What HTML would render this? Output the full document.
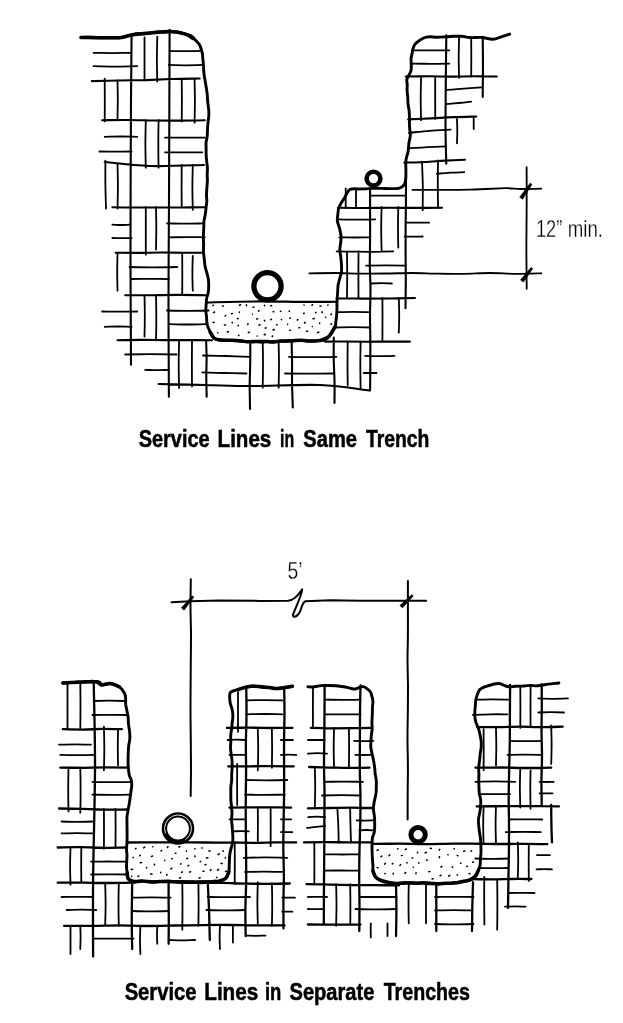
<!DOCTYPE html>
<html><head><meta charset="utf-8"><title>Service Lines</title>
<style>
html,body{margin:0;padding:0;background:#fff;}
body{width:623px;height:1023px;overflow:hidden;font-family:"Liberation Sans",sans-serif;}
svg{display:block;}
text{font-family:"Liberation Sans",sans-serif;fill:#000;}
</style></head><body>
<svg width="623" height="1023" viewBox="0 0 623 1023">
<rect width="623" height="1023" fill="#fff"/>
<g fill="none" stroke="#000" stroke-linecap="round" stroke-linejoin="round">
<path stroke-width="1.8" d="M93.6,52.9 C96.7,52.9 105.8,53.1 112,53.1 C118.1,53.1 127.2,52.9 130.3,52.9 M93.6,66.2 C97.2,66.3 108.2,66.6 115.5,66.6 C122.7,66.6 133.7,66.3 137.3,66.2 M144.5,37.5 C144.5,41.1 144.5,51.8 144.5,58.9 C144.5,66 144.5,76.7 144.5,80.3 M157.3,36.7 C157.2,40.4 156.9,51.7 156.9,59.1 C156.9,66.6 157.2,77.9 157.3,81.6 M169.6,50.8 C172.1,50.9 179.6,51.2 184.6,51.2 C189.7,51.2 197.2,50.9 199.7,50.8 M168.9,64.9 C171.7,65 180,65.3 185.6,65.3 C191.2,65.3 199.5,65 202.3,64.9 M104.7,78.6 C104.7,82.2 104.8,92.9 104.8,100 C104.8,107.1 104.7,117.8 104.7,121.4 M117.5,80.3 C117.5,83.5 117.8,93.2 117.8,99.6 C117.8,106 117.5,115.7 117.5,118.9 M181.7,79 C181.7,82.5 181.9,93.1 181.9,100.2 C181.9,107.3 181.7,117.9 181.7,121.4 M194.6,79 C194.6,82.6 194.9,93.6 194.9,100.8 C194.9,108.1 194.6,119.1 194.6,122.7 M104.7,136.8 C107.4,136.8 115.6,136.5 121,136.5 C126.4,136.5 134.6,136.8 137.3,136.8 M99.5,151.5 C102.2,151.5 110.2,151.6 115.5,151.6 C120.9,151.6 128.9,151.5 131.6,151.5 M145.8,120.2 C145.7,124.2 145.4,136 145.4,143.9 C145.4,151.9 145.7,163.7 145.8,167.7 M158.6,120.2 C158.5,124.2 158.3,136 158.3,143.9 C158.3,151.9 158.5,163.7 158.6,167.7 M165,137.6 C168.3,137.6 178.3,137.6 184.9,137.6 C191.5,137.6 201.5,137.6 204.8,137.6 M165,152.3 C168.1,152.3 177.4,152.4 183.7,152.4 C189.9,152.4 199.2,152.3 202.3,152.3 M105.4,160.7 C105.4,164.7 105.3,176.6 105.4,184.6 C105.5,192.6 105.9,204.5 106,208.5 M117.5,163.8 C117.6,167.5 117.9,178.7 117.9,186.2 C117.9,193.6 117.6,204.8 117.5,208.5 M181.7,165 C181.7,168.4 181.6,178.7 181.6,185.5 C181.6,192.3 181.7,202.6 181.7,206 M192.8,165 C192.7,168.7 192.4,179.9 192.4,187.4 C192.4,194.9 192.7,206.1 192.8,209.8 M112.4,224.7 C113.8,224.7 118.1,225 121,225 C123.9,225 128.2,224.7 129.6,224.7 M112.4,238 C114,238 118.8,238.2 122,238.2 C125.2,238.2 130,238 131.6,238 M145.8,207.2 C145.8,211.2 145.8,223 145.8,230.9 C145.8,238.9 145.8,250.7 145.8,254.7 M156,207.2 C156,210.7 156.3,221.3 156.3,228.4 C156.3,235.5 156,246.1 156,249.6 M167,223.4 C170.1,223.4 179.3,223.7 185.5,223.7 C191.7,223.7 200.9,223.4 204,223.4 M168.9,237.3 C171.9,237.3 180.9,237.1 186.9,237.1 C192.8,237.1 201.8,237.3 204.8,237.3 M117.5,253.5 C117.5,256.6 117.2,265.9 117.2,272.1 C117.2,278.3 117.5,287.6 117.5,290.7 M129.6,267 C133.6,267.1 145.5,267.4 153.4,267.4 C161.4,267.4 173.3,267.1 177.3,267 M130.9,279 C134.1,279 143.6,278.9 149.9,278.9 C156.2,278.9 165.7,279 168.9,279 M182.2,254.2 C182.2,257.5 182.3,267.2 182.3,273.8 C182.3,280.3 182.2,290 182.2,293.3 M192.8,256 C192.7,258.9 192.4,267.6 192.4,273.4 C192.4,279.1 192.7,287.8 192.8,290.7 M102.1,311.5 C105,311.5 113.8,311.7 119.7,311.7 C125.6,311.7 134.4,311.5 137.3,311.5 M104.7,326.8 C106.9,326.8 113.7,326.5 118.2,326.5 C122.6,326.5 129.4,326.8 131.6,326.8 M144.5,295.4 C144.6,298.8 144.8,309.1 144.8,315.9 C144.8,322.8 144.6,333.1 144.5,336.5 M156,295.4 C156.1,299.1 156.3,310.4 156.3,317.9 C156.3,325.3 156.1,336.6 156,340.3 M167,310.5 C170.5,310.6 180.9,310.9 187.8,310.9 C194.8,310.9 205.2,310.6 208.7,310.5 M168.9,324.2 C172,324.2 181.3,324.5 187.4,324.5 C193.6,324.5 202.9,324.2 206,324.2 M125.2,354.5 C129.5,354.4 142.3,354.2 150.9,354.2 C159.5,354.2 172.3,354.4 176.6,354.5 M145.2,369.9 C147.2,369.9 153.1,370.2 157.1,370.2 C161,370.2 166.9,369.9 168.9,369.9 M179.1,341.6 C179,345.5 178.7,357 178.7,364.8 C178.7,372.5 179,384 179.1,387.9 M192,340.3 C192,344.2 191.9,355.7 191.9,363.5 C191.9,371.2 192,382.7 192,386.6 M203,355.5 C206.9,355.6 218.8,355.8 226.7,356 C234.5,356.2 246.4,356.7 250.3,356.8 M202.3,372.4 C206,372.5 217,372.8 224.4,373 C231.8,373.2 242.8,373.4 246.5,373.5 M262.7,341.4 C262.8,345.3 263,356.8 263,364.5 C263,372.3 262.8,383.8 262.7,387.7 M278.6,341.4 C278.7,345.3 279,356.8 279,364.5 C279,372.3 278.7,383.8 278.6,387.7 M288.9,356.8 C292.9,356.9 304.7,357.2 312.6,357.2 C320.6,357.2 332.4,356.9 336.4,356.8 M285,373.5 C289.1,373.5 301.3,373.6 309.4,373.6 C317.5,373.6 329.7,373.5 333.8,373.5 M412,50.3 C415.1,50.3 424.4,50.3 430.6,50.3 C436.9,50.3 446.2,50.3 449.3,50.3 M412,63.7 C415.1,63.7 424.4,63.8 430.6,63.8 C436.9,63.8 446.2,63.7 449.3,63.7 M459.1,38 C459,41.3 458.7,51.3 458.7,57.9 C458.7,64.5 459,74.5 459.1,77.8 M471.2,38 C471.2,41.2 471.3,50.8 471.3,57.2 C471.3,63.7 471.2,73.3 471.2,76.5 M421.1,77.8 C421,81.3 420.7,91.9 420.7,99 C420.7,106.1 421,116.7 421.1,120.2 M435.2,77.8 C435.2,81.2 435.2,91.5 435.2,98.3 C435.2,105.2 435.2,115.5 435.2,118.9 M446.3,89.9 C449.2,89.7 458,89.1 463.9,88.6 C469.7,88.2 478.5,87.5 481.4,87.3 M446.3,104.2 C448.4,104 454.6,103.4 458.8,103 C462.9,102.6 469.1,101.9 471.2,101.7 M408.8,132.8 C412.3,132.5 422.7,131.3 429.7,130.8 C436.6,130.3 447.1,129.9 450.6,129.7 M409.6,148.2 C412.7,148 421.8,147.5 427.9,147.2 C434.1,146.9 443.2,146.5 446.3,146.4 M457,118.9 C457,120.9 457.3,127 457.3,131.1 C457.3,135.2 457,141.3 457,143.3 M473.7,117 C473.7,119 473.7,127.1 473.7,129.1 M422,161.6 C422.1,165.7 422.7,177.8 422.8,185.9 C422.9,194.1 422.7,206.2 422.7,210.3 M438,160.3 C438,164.3 437.8,176.1 437.8,184.1 C437.8,192 438,203.8 438.1,207.8 M436.9,173.8 C439.2,173.6 446,173 450.5,172.7 C455.1,172.4 461.9,172.3 464.2,172.2 M406,222.7 C407.9,222.7 413.7,222.7 417.6,222.7 C421.4,222.7 427.2,222.7 429.1,222.7 M404.7,236.5 C406.2,236.5 410.7,236.7 413.7,236.7 C416.7,236.7 421.2,236.5 422.7,236.5 M345.7,188.5 C345.7,190.1 345.7,194.9 345.7,198.2 C345.7,201.4 345.7,206.2 345.7,207.8 M356,188.5 C356,190.1 356,194.9 356,198.2 C356,201.4 356,206.2 356,207.8 M370.1,195.7 C373.1,195.7 382.1,195.7 388.1,195.7 C394,195.7 403,195.7 406,195.7 M338.5,219.3 C341.6,219.4 350.7,219.7 356.9,219.7 C363,219.7 372.1,219.4 375.2,219.3 M339.3,237.3 C341.9,237.3 349.6,237.5 354.7,237.5 C359.8,237.5 367.5,237.3 370.1,237.3 M336.7,251.4 C339.8,251.5 349.3,251.7 355.5,251.7 C361.8,251.8 368.1,251.9 374.4,251.8 C380.6,251.7 390.1,251.5 393.2,251.4 M347,251.4 C347,255.3 347.2,266.8 347.2,274.6 C347.2,282.3 347,293.8 347,297.7 M358.5,251.4 C358.5,255.3 358.4,266.8 358.4,274.6 C358.4,282.3 358.5,293.8 358.5,297.7 M381.6,207 C381.5,210.6 381.2,221.4 381.2,228.6 C381.2,235.8 381.5,246.6 381.6,250.2 M398.3,207 C398.2,210.4 398,220.5 398,227.3 C398,234.1 398.2,244.2 398.3,247.6 M366.2,265.6 C369.5,265.5 379.5,265.3 386.1,265.3 C392.7,265.3 402.7,265.5 406,265.6 M371.4,283.5 C373.1,283.4 378.2,283.2 381.6,283.2 C385.1,283.2 390.2,283.4 391.9,283.5 M382.4,298 C382.4,301.5 382.5,312.1 382.5,319.1 C382.5,326.2 382.4,336.8 382.4,340.3 M398.8,298 C398.9,300.9 399.2,309.5 399.2,315.3 C399.2,321.1 398.9,329.7 398.8,332.6 M336.7,312.1 C339.5,312.1 347.8,311.9 353.4,311.9 C359,311.9 367.3,312.1 370.1,312.1 M335.4,327.5 C338.3,327.4 347,327.1 352.8,327.1 C358.5,327.1 367.2,327.4 370.1,327.5 M347.7,341.6 C347.7,345.2 347.5,356.2 347.5,363.5 C347.5,370.7 347.7,381.7 347.7,385.3 M360.6,341.6 C360.6,345.5 360.3,357 360.3,364.8 C360.3,372.5 360.6,384 360.6,387.9 M365,355.8 C367.5,355.9 374.8,356.2 379.8,356.2 C384.7,356.2 392,355.9 394.5,355.8 M363.7,373 C365.8,373 374.4,373 376.5,373 M67.5,683 C67.5,686.9 67.5,698.4 67.5,706.1 C67.5,713.8 67.5,725.4 67.5,729.2 M80.3,683 C80.3,686.9 80.5,698.4 80.5,706.1 C80.5,713.8 80.3,725.4 80.3,729.2 M93.7,701 C96.3,700.9 104,700.7 109.1,700.7 C114.2,700.7 121.9,700.9 124.5,701 M92.4,715 C95.3,715 103.9,714.9 109.7,714.9 C115.5,714.9 124.1,715 127,715 M59,744.6 C61.7,744.6 69.7,744.4 75,744.4 C80.3,744.4 88.3,744.6 91,744.6 M60.3,754.9 C63.2,755 71.9,755.2 77.7,755.2 C83.4,755.2 92.1,755 95,754.9 M103.9,726.6 C104,730.2 104.3,741.2 104.3,748.5 C104.3,755.7 104,766.7 103.9,770.3 M118,729.2 C118,732.2 117.8,741.2 117.8,747.2 C117.8,753.2 118,762.2 118,765.2 M68.5,767.7 C68.4,771.3 68.2,782.3 68.2,789.5 C68.2,796.8 68.4,807.8 68.5,811.4 M80.3,767.7 C80.4,771.5 80.6,782.7 80.6,790.2 C80.6,797.7 80.4,809 80.3,812.7 M92.4,781.8 C95.6,781.9 105.2,782.2 111.7,782.2 C118.1,782.2 127.7,781.9 130.9,781.8 M92.4,794.7 C95.4,794.7 104.4,794.9 110.4,794.9 C116.3,794.9 125.3,794.7 128.3,794.7 M61.6,821.5 C64.2,821.6 71.9,821.9 77,821.9 C82.1,821.9 89.8,821.6 92.4,821.5 M61.6,833.4 C64.2,833.4 71.9,833.2 77,833.2 C82.1,833.2 89.8,833.4 92.4,833.4 M103.9,809 C103.9,812.3 104,822.3 104,828.9 C104,835.5 103.9,845.5 103.9,848.8 M115.5,809 C115.5,812.2 115.6,821.8 115.6,828.2 C115.6,834.7 115.5,844.3 115.5,847.5 M70.5,847.5 C70.4,850.6 70.1,859.9 70.1,866.1 C70.1,872.3 70.4,881.6 70.5,884.7 M81.3,847.5 C81.3,850.4 81.2,859.1 81.2,864.9 C81.2,870.6 81.3,879.3 81.3,882.2 M91.1,861.6 C94,861.6 102.7,861.5 108.4,861.5 C114.2,861.5 122.9,861.6 125.8,861.6 M91.1,874.5 C94.1,874.5 103.1,874.4 109,874.4 C115,874.4 124,874.5 127,874.5 M61.6,897 C64.2,897 72.1,896.8 77.3,896.8 C82.6,896.8 90.5,897 93.1,897 M66.7,910 C69.2,909.9 76.5,909.6 81.5,909.6 C86.4,909.6 93.7,909.9 96.2,910 M105.2,883.5 C105.3,886.9 105.6,897.2 105.6,904 C105.6,910.9 105.3,921.2 105.2,924.6 M118.8,883.5 C118.7,887 118.5,897.6 118.5,904.6 C118.5,911.7 118.7,922.3 118.8,925.8 M132.2,897.6 C135.4,897.6 145,897.4 151.4,897.4 C157.9,897.4 167.5,897.6 170.7,897.6 M132.2,911 C135.2,911.1 144.3,911.4 150.4,911.4 C156.5,911.4 165.6,911.1 168.6,911 M182.3,881.7 C182.3,885.7 182.5,897.7 182.5,905.7 C182.5,913.7 182.3,925.7 182.3,929.7 M198.4,881.7 C198.4,885.4 198.6,896.4 198.6,903.8 C198.6,911.1 198.4,922.1 198.4,925.8 M70.5,925.8 C70.5,928.1 70.5,935.2 70.5,939.9 C70.5,944.6 70.5,951.6 70.5,954 M80.3,925.8 C80.3,927.7 80.6,933.5 80.6,937.4 C80.6,941.3 80.3,947.1 80.3,949 M93.1,938.7 C96.5,938.7 106.6,938.6 113.3,938.6 C120,938.6 130.1,938.7 133.5,938.7 M140.4,925.8 C140.3,928.1 140,935.2 140,939.9 C140,944.6 140.3,951.6 140.4,954 M157.3,927.1 C157.2,928.5 157,932.7 157,935.5 C157,938.2 157.2,942.4 157.3,943.8 M168.6,940 C170.8,940 177.4,940.3 181.8,940.3 C186.3,940.3 192.9,940 195.1,940 M207.7,897 C211.2,897 221.8,897.1 228.8,897.1 C235.9,897.1 246.5,897 250,897 M206.4,910 C209.6,910.1 219.3,910.4 225.7,910.4 C232.1,910.4 241.8,910.1 245,910 M220,925.3 C219.9,927.3 219.6,933.2 219.6,937.1 C219.6,941.1 219.9,947 220,949 M232.9,925.3 C232.9,926.7 232.9,931 232.9,933.9 C232.9,936.8 232.9,941.1 232.9,942.5 M245.7,935.6 C247.3,935.6 252.3,935.8 255.6,935.8 C258.9,935.8 263.9,935.6 265.5,935.6 M238,692 C238,695.3 238,705.3 238,711.9 C238,718.5 238,728.5 238,731.8 M246.2,700.4 C249.2,700.3 258.2,700.1 264.2,700.1 C270.2,700.1 279.2,700.3 282.2,700.4 M246.2,714.3 C249.2,714.3 258.2,714 264.2,714 C270.2,714 279.2,714.3 282.2,714.3 M227.7,740 C229.1,739.9 233.5,739.6 236.3,739.6 C239.2,739.6 243.6,739.9 245,740 M229.5,754.9 C230.8,754.9 234.7,754.8 237.2,754.8 C239.8,754.8 243.7,754.9 245,754.9 M257.8,729.2 C257.9,732.6 258.2,742.9 258.2,749.8 C258.2,756.6 257.9,766.9 257.8,770.3 M271.9,729.2 C271.9,732.4 272.1,742 272.1,748.5 C272.1,754.9 271.9,764.5 271.9,767.7 M280.9,740 C282.9,740 291,740 293,740 M280.9,754.9 C282.2,754.9 286,754.7 288.6,754.7 C291.2,754.7 295,754.9 296.3,754.9 M237.2,763.9 C237.2,767.3 237.1,777.6 237.1,784.5 C237.1,791.3 237.2,801.6 237.2,805 M246.2,780 C249.6,780.1 259.9,780.3 266.8,780.3 C273.6,780.3 283.9,780.1 287.3,780 M245,794.7 C248.3,794.7 258.2,794.9 264.9,794.9 C271.5,794.9 281.4,794.7 284.7,794.7 M257.8,807.5 C257.8,810.3 257.9,818.7 257.9,824.2 C257.9,829.8 257.8,838.2 257.8,841 M270.6,807.5 C270.6,810.7 270.7,820.4 270.7,826.9 C270.7,833.3 270.6,843 270.6,846.2 M229.5,819.3 C230.9,819.3 235.1,819.3 237.8,819.3 C240.6,819.3 244.8,819.3 246.2,819.3 M233.4,831.3 C234.7,831.3 238.5,831.2 241.1,831.2 C243.7,831.2 247.5,831.3 248.8,831.3 M280.9,819.3 C282.6,819.3 289.5,819.3 291.2,819.3 M280.9,832.1 C282.8,832.1 290.5,832.1 292.4,832.1 M234.7,842.4 C234.7,845.8 234.8,856.1 234.8,863 C234.8,869.8 234.7,880.1 234.7,883.5 M243.7,857.8 C247.3,857.7 258.2,857.4 265.5,857.4 C272.8,857.4 283.7,857.7 287.3,857.8 M245,871.9 C248.1,871.9 257.4,871.7 263.6,871.7 C269.8,871.7 279.1,871.9 282.2,871.9 M257.8,882.2 C257.7,885.6 257.4,895.9 257.4,902.8 C257.4,909.6 257.7,919.9 257.8,923.3 M271.9,883.5 C272,887 272.2,897.6 272.2,904.6 C272.2,911.7 272,922.3 271.9,925.8 M282.2,897.6 C284.3,897.6 292.9,897.6 295,897.6 M282.2,911.7 C283.9,911.7 290.7,911.7 292.4,911.7 M313,686.8 C313,690.2 312.9,700.5 312.9,707.3 C312.9,714.2 313,724.5 313,727.9 M314.8,767 C314.9,770.4 315.2,780.5 315.2,787.2 C315.2,794 314.9,804.1 314.8,807.5 M314.3,842.4 C314.3,845.8 314.4,856.1 314.4,863 C314.4,869.8 314.3,880.1 314.3,883.5 M324.6,699.7 C327.6,699.7 336.6,699.9 342.6,699.9 C348.5,699.9 357.5,699.7 360.5,699.7 M324.6,714.3 C327.6,714.3 336.6,714.3 342.6,714.3 C348.5,714.3 357.5,714.3 360.5,714.3 M307.9,740 C309.3,740 313.5,740 316.2,740 C319,740 323.2,740 324.6,740 M307.9,753.6 C309.5,753.5 314.3,753.2 317.4,753.2 C320.6,753.2 325.4,753.5 327,753.6 M334,727.9 C334,731.2 333.7,741.2 333.7,747.8 C333.7,754.4 334,764.4 334,767.7 M348.9,727.9 C348.9,731.2 349.1,741.2 349.1,747.8 C349.1,754.4 348.9,764.4 348.9,767.7 M354,740.8 C355.6,740.9 360.5,741.2 363.7,741.2 C366.9,741.2 371.8,740.9 373.4,740.8 M355.4,754.9 C356.8,754.9 360.9,755 363.7,755 C366.5,755 370.6,754.9 372,754.9 M324.6,781.8 C327.8,781.8 337.4,781.6 343.8,781.6 C350.2,781.6 359.8,781.8 363,781.8 M322,795.5 C325.2,795.4 334.8,795.2 341.2,795.2 C347.7,795.2 357.3,795.4 360.5,795.5 M337.4,808.8 C337.5,811.6 338.1,820 338.3,825.6 C338.5,831.2 338.6,839.6 338.7,842.4 M350.2,808.8 C350.2,811.6 350.3,820 350.5,825.6 C350.6,831.2 350.9,839.6 351,842.4 M356.7,820.4 C358.1,820.4 362.3,820.6 365,820.6 C367.8,820.6 372,820.4 373.4,820.4 M359.3,830.3 C360.5,830.2 364,830 366.4,830 C368.7,830 372.2,830.2 373.4,830.3 M308.2,817.1 C309.6,817 313.8,816.7 316.6,816.7 C319.5,816.7 323.7,817 325.1,817.1 M307,827.9 C308.5,827.7 313,827.3 316.1,826.9 C319.1,826.6 323.6,826.1 325.1,825.9 M325.8,854.4 C328.6,854.4 337,854.5 342.6,854.5 C348.1,854.5 356.5,854.4 359.3,854.4 M323.8,870.6 C326.8,870.6 335.6,870.5 341.6,870.5 C347.5,870.5 356.3,870.6 359.3,870.6 M307.9,897 C309.5,897 314.3,896.8 317.5,896.8 C320.7,896.8 325.5,897 327.1,897 M307.9,909 C309.2,909 313.2,909.1 315.9,909.1 C318.5,909.1 322.5,909 323.8,909 M336.1,884.2 C336.2,887.7 336.5,898.1 336.5,905 C336.5,911.9 336.2,922.3 336.1,925.8 M350.2,884.2 C350.2,887.5 350.4,897.2 350.4,903.7 C350.4,910.3 350.3,920 350.3,923.3 M360.5,897 C363.5,897 372.5,897 378.5,897 C384.5,897 393.5,897 396.5,897 M355.4,909 C358.7,909.1 368.7,909.4 375.3,909.4 C381.9,909.4 391.9,909.1 395.2,909 M370.8,923.3 C370.8,924.5 370.7,928 370.7,930.3 C370.7,932.7 370.8,936.2 370.8,937.4 M387.5,923.3 C387.5,925.4 387.5,933.9 387.5,936 M408.8,883.5 C408.7,886.8 408.5,896.8 408.5,903.4 C408.5,910 408.7,920 408.8,923.3 M426,883.5 C426,886.8 426,896.8 426,903.4 C426,910 426,920 426,923.3 M435,897 C438.2,897 447.8,896.8 454.2,896.8 C460.7,896.8 470.3,897 473.5,897 M435,910.4 C438.1,910.4 447.4,910.2 453.6,910.2 C459.8,910.2 469.1,910.4 472.2,910.4 M435,924 C438.2,924.1 447.8,924.4 454.2,924.4 C460.7,924.4 470.3,924.1 473.5,924 M484.3,877 C484.3,881 484.1,892.8 484.2,900.8 C484.2,908.7 484.4,920.5 484.4,924.5 M497.2,879.6 C497.2,883.8 497.4,896.3 497.4,904.7 C497.4,913 497.2,925.5 497.2,929.7 M476.7,699.7 C479.4,699.7 487.4,699.4 492.8,699.4 C498.1,699.4 506.1,699.7 508.8,699.7 M472.8,714.8 C475.7,714.7 484.4,714.4 490.1,714.3 C495.9,714.2 504.6,714.3 507.5,714.3 M520.3,686.8 C520.3,690.2 520.4,700.5 520.4,707.3 C520.4,714.2 520.3,724.5 520.3,727.9 M530.6,686.8 C530.6,690.1 530.5,700.1 530.5,706.7 C530.5,713.3 530.6,723.3 530.6,726.6 M538.3,698.4 C540.8,698.5 548.2,698.8 553.1,698.8 C558,698.8 565.4,698.5 567.9,698.4 M538.3,712.5 C540.4,712.4 546.9,712.2 551.1,712.2 C555.4,712.2 561.9,712.4 564,712.5 M483.6,729.2 C483.6,732.6 483.7,742.9 483.7,749.8 C483.7,756.6 483.6,766.9 483.6,770.3 M496,727.9 C496,731 496.3,740.3 496.3,746.5 C496.3,752.8 496,762.1 496,765.2 M510.1,740.8 C512.7,740.9 520.4,741.2 525.5,741.2 C530.6,741.2 538.3,740.9 540.9,740.8 M507.5,754.9 C510.3,754.8 518.6,754.6 524.2,754.6 C529.8,754.6 538.1,754.8 540.9,754.9 M551.2,725.4 C551.3,728.6 551.6,738.2 551.6,744.6 C551.6,751.1 551.3,760.7 551.2,763.9 M475.4,781.8 C478.7,781.7 488.7,781.4 495.3,781.4 C501.9,781.4 511.9,781.7 515.2,781.8 M479.3,794.2 C481.9,794.2 489.6,794.1 494.7,794.1 C499.8,794.1 507.5,794.2 510.1,794.2 M520.3,767.7 C520.2,771 519.9,781 519.9,787.6 C519.9,794.2 520.2,804.2 520.3,807.5 M530.6,770.3 C530.5,773.5 530.3,783.1 530.3,789.5 C530.3,796 530.5,805.6 530.6,808.8 M539.6,781.8 C540.8,781.8 544.3,782 546.7,782 C549,782 552.5,781.8 553.7,781.8 M539.6,793.4 C541.8,793.4 550.4,793.4 552.5,793.4 M483.6,807.2 C483.5,810.3 483.2,819.5 483.2,825.7 C483.2,831.9 483.5,841.1 483.6,844.2 M496,805.7 C495.9,808.9 495.6,818.4 495.6,824.7 C495.6,831 495.9,840.5 496,843.7 M508.8,819.5 C511.6,819.5 519.9,819.3 525.5,819.3 C531.1,819.3 539.4,819.5 542.2,819.5 M505.7,832.1 C508.6,832.1 517.4,831.8 523.3,831.8 C529.2,831.8 538,832.1 540.9,832.1 M475.4,858.5 C478.1,858.6 486.3,858.9 491.7,858.9 C497.1,858.9 505.3,858.6 508,858.5 M479.3,868 C481.7,868 488.9,868.2 493.6,868.2 C498.4,868.2 505.6,868 508,868 M517.8,842.4 C517.9,845.4 518.2,854.4 518.2,860.3 C518.2,866.3 517.9,875.3 517.8,878.3 M528.8,844.2 C528.8,847.3 528.7,856.4 528.7,862.5 C528.7,868.7 528.8,877.8 528.8,880.9 M537,855.2 C539.1,855.2 547.8,855.2 549.9,855.2 M536.5,869.3 C537.8,869.3 541.7,869.2 544.2,869.2 C546.8,869.2 550.7,869.3 552,869.3 M508,893 C510.2,893 516.8,892.9 521.2,892.9 C525.7,892.9 532.3,893 534.5,893 M505,906.6 C506.7,906.6 511.8,906.4 515.2,906.4 C518.7,906.4 523.8,906.6 525.5,906.6"/>
<path stroke-width="2.1" d="M131.6,34 C131.5,45 131.2,64 131,100 C130.8,136 130.5,205.9 130.5,250 C130.5,294.1 130.9,345.6 131,364.7 M169.6,29.8 C169.5,58.2 169.2,155 169,200 C168.8,245 168.5,267.2 168.5,300 C168.5,332.8 168.8,380.7 168.9,396.8 M206.1,340.3 C206.2,343.4 206.6,352.8 206.6,359.1 C206.6,365.3 206.2,371.6 206.3,377.8 C206.3,384.1 206.6,393.5 206.7,396.6 M91.8,81.1 C96.3,81 109.8,80.7 118.8,80.5 C127.8,80.3 136.8,80.3 145.8,80.1 C154.7,79.8 163.7,79.3 172.7,79 C181.7,78.7 195.2,78.6 199.7,78.5 M102.1,120.2 C106.4,120.2 119.2,119.9 127.8,120 C136.3,120 144.9,120.4 153.4,120.5 C162,120.6 170.6,120.7 179.1,120.6 C187.7,120.6 200.5,120.3 204.8,120.2 M104.7,162 C112.2,162.7 133.4,165.5 150,166 C166.6,166.5 195,165.2 204,165 M112.4,207.2 C116.2,207.3 127.8,207.5 135.5,207.5 C143.2,207.6 150.9,207.5 158.6,207.5 C166.3,207.5 174,207.5 181.7,207.5 C189.4,207.4 201,207.2 204.8,207.2 M115.7,252.7 C119.4,252.7 130.3,253 137.7,252.9 C145,252.9 152.3,252.5 159.6,252.5 C166.9,252.4 174.2,252.7 181.6,252.7 C188.9,252.8 199.8,252.7 203.5,252.7 M125.2,295.3 C129.7,295.3 143.2,295.2 152.1,295.2 C161.1,295.1 170.1,294.9 179.1,294.9 C188,294.9 201.5,295.2 206,295.3 M117.5,340.3 C121.4,340.2 133.2,339.9 141.1,339.9 C149,339.8 156.9,340.1 164.8,340.1 C172.6,340.1 180.5,340.1 188.4,340.1 C196.2,340.1 208.1,340.3 212,340.3 M158.6,384 C166.5,384.2 190.8,384.7 206,385 C221.2,385.3 231,386 250,386 C269,386 300.2,384.3 320,385 C339.8,385.7 360.8,389.5 369,390.4 M250.3,341.4 C250.3,345.2 250.3,356.4 250.2,363.9 C250.1,371.4 249.7,379 249.7,386.5 C249.7,394 250,405.2 250,409 M291.6,341.4 C291.7,345.1 292,356.1 292.1,363.4 C292.1,370.7 291.9,378.1 292.1,385.4 C292.2,392.7 292.7,403.7 292.8,407.4 M333.8,337.6 C333.8,341.2 333.6,352.1 333.7,359.4 C333.9,366.7 334.4,373.9 334.5,381.2 C334.7,388.5 334.5,399.4 334.5,403 M446.3,35.4 C446.2,49.8 445.5,100.6 445.5,122 C445.5,143.4 446.2,156.8 446.3,163.8 M482.7,36.7 C482.7,40.1 482.9,50.1 482.9,56.8 C483,63.5 482.9,70.2 482.9,76.9 C482.8,83.6 482.7,93.7 482.7,97 M405.7,76.5 C409.5,76.5 420.9,76.3 428.5,76.3 C436.1,76.3 443.7,76.6 451.2,76.6 C458.8,76.6 466.4,76.3 474,76.3 C481.6,76.3 493,76.5 496.8,76.5 M408.2,119.4 C412,119.2 423.3,118.7 430.9,118.4 C438.5,118 446,117.4 453.6,117.1 C461.2,116.8 472.5,116.6 476.3,116.5 M404.4,162.6 C407.8,162.5 417.9,162.4 424.6,162 C431.3,161.7 438.1,161 444.8,160.6 C451.5,160.2 461.6,159.9 465,159.8 M406,178 C406,182.3 406,195.4 405.9,204 C405.9,212.7 405.6,221.4 405.6,230.1 C405.6,238.8 405.6,247.4 405.6,256.1 C405.7,264.8 405.8,273.5 405.8,282.2 C405.7,290.8 405.5,303.9 405.5,308.2 M370.1,188.5 C370.1,192.7 370.1,205.3 370.1,213.7 C370.1,222.2 370.1,230.6 370.1,239 C370,247.4 369.8,255.8 369.8,264.2 C369.9,272.6 370.4,281 370.5,289.4 C370.5,297.9 370.1,306.3 370,314.7 C370,323.1 370.3,331.5 370.3,339.9 C370.4,348.3 370.3,356.7 370.3,365.2 C370.3,373.6 370.1,386.2 370.1,390.4 M338,207.8 C342.3,207.8 355.3,208 364,208 C372.7,208 381.3,207.8 390,207.8 C398.7,207.8 407.3,207.9 416,207.9 C424.7,207.9 437.7,207.8 442,207.8 M336.7,298.5 C341.1,298.5 354.1,298.6 362.8,298.6 C371.5,298.6 380.2,298.6 388.9,298.5 C397.6,298.4 410.7,298.1 415,298 M325,341.6 C328.5,341.6 339.2,341.5 346.2,341.5 C353.3,341.6 360.4,341.7 367.4,341.7 C374.5,341.7 381.6,341.6 388.7,341.6 C395.7,341.6 406.4,341.6 409.9,341.6 M206.7,302.5 C215.6,302.3 244.4,301.5 260,301.4 C275.6,301.3 287.3,301.8 300,301.9 C312.7,302 330.3,301.8 336.4,301.8"/>
<path stroke-width="2.3" d="M93.7,681.7 C93.9,696 95.1,734.7 95,767.7 C94.9,800.8 93.4,848.5 93.1,880 C92.8,911.5 93.1,943.8 93.1,956.6 M132.2,880.9 C132.2,884.7 132,896 131.9,903.6 C131.8,911.2 131.7,918.7 131.8,926.3 C131.8,933.9 132.1,945.2 132.2,949 M168.6,880.9 C168.6,884.4 168.6,894.9 168.6,901.9 C168.7,908.9 168.8,915.8 168.8,922.8 C168.8,929.8 168.6,940.3 168.6,943.8 M207.9,884.7 C208.1,889.3 208.8,903.1 209.1,912.3 C209.4,921.6 209.7,935.4 209.8,940 M62.8,729.2 C66.1,729.3 75.9,729.6 82.5,729.6 C89.1,729.6 95.6,729 102.2,728.9 C108.8,728.9 118.6,729.2 121.9,729.2 M60.3,767.7 C64.1,767.7 75.4,767.8 83,767.8 C90.5,767.7 98.1,767.4 105.6,767.4 C113.2,767.4 124.5,767.6 128.3,767.7 M59,808.5 C62.8,808.6 74.1,808.7 81.7,808.9 C89.2,809 96.8,809.5 104.3,809.6 C111.9,809.7 123.2,809.5 127,809.5 M57.7,847.5 C61.6,847.4 73.1,847.1 80.8,847.2 C88.5,847.2 96.2,847.7 103.9,847.8 C111.6,847.8 123.2,847.5 127,847.5 M57.7,882.7 C62,882.7 74.9,882.6 83.5,882.7 C92.1,882.8 100.6,883 109.2,883 C117.8,883 130.7,882.8 135,882.7 M64.1,925.8 C68.7,925.8 82.5,926 91.7,925.9 C100.9,925.9 110.1,925.4 119.2,925.4 C128.4,925.4 137.6,926 146.8,926 C156,926 165.2,925.7 174.4,925.5 C183.6,925.4 192.8,925.2 202,925.1 C211.2,925 220.4,924.9 229.5,925 C238.7,925 247.9,925.3 257.1,925.4 C266.3,925.4 280.1,925.3 284.7,925.3 M246.2,686.8 C246.3,691.4 246.6,705.3 246.5,714.5 C246.5,723.7 246,732.9 245.9,742.2 C245.8,751.4 246.1,760.6 246.1,769.9 C246.1,779.1 245.8,788.3 245.8,797.6 C245.7,806.8 245.7,816 245.8,825.2 C245.8,834.5 246,843.7 246.1,852.9 C246.1,862.2 246.3,871.4 246.2,880.6 C246.1,889.9 245.5,899.1 245.4,908.3 C245.3,917.5 245.6,931.4 245.7,936 M284.2,686.8 C284.2,691.3 284.5,704.7 284.5,713.6 C284.4,722.6 284.1,731.5 284.1,740.5 C284,749.4 284.1,758.4 284.1,767.3 C284.1,776.3 284.2,785.2 284.1,794.2 C284,803.1 283.7,812.1 283.6,821 C283.5,830 283.3,838.9 283.3,847.9 C283.4,856.8 283.8,865.8 283.9,874.7 C283.9,883.7 283.5,892.6 283.4,901.6 C283.4,910.5 283.5,923.9 283.5,928.4 M227,727.9 C230.6,727.9 241.5,727.7 248.8,727.7 C256.1,727.7 263.3,727.9 270.6,728 C277.9,728 288.8,727.9 292.4,727.9 M228.2,766.4 C231.8,766.4 242.8,766.4 250,766.3 C257.3,766.3 264.6,766.1 271.9,766.1 C279.1,766.1 290.1,766.4 293.7,766.4 M229.5,807.6 C232.9,807.5 243.2,807.3 250.1,807.3 C256.9,807.3 263.8,807.3 270.6,807.3 C277.5,807.4 287.8,807.6 291.2,807.6 M232.1,842.4 C235.7,842.5 246.4,842.8 253.5,842.8 C260.6,842.8 267.8,842.5 274.9,842.4 C282,842.3 292.7,842.4 296.3,842.4 M200,883 C203.7,883 215,882.8 222.5,882.9 C230,883 237.5,883.5 244.9,883.6 C252.4,883.8 259.9,883.8 267.4,883.8 C274.9,883.8 286.2,883.6 289.9,883.5 M324.6,685.5 C324.6,689.9 324.6,703.1 324.5,711.9 C324.5,720.7 324.4,729.5 324.3,738.3 C324.2,747.2 324,756 324,764.8 C324,773.6 324.4,782.4 324.5,791.2 C324.6,800 324.4,808.8 324.4,817.6 C324.3,826.4 324.3,835.2 324.3,844 C324.2,852.8 324.1,861.6 324.1,870.5 C324,879.3 324,888.1 323.9,896.9 C323.9,905.7 323.8,918.9 323.8,923.3 M360.5,685.5 C360.4,690 360.1,703.7 360,712.8 C359.9,721.9 360,731 359.9,740.1 C359.9,749.1 359.7,758.2 359.8,767.3 C359.8,776.4 360.3,785.5 360.4,794.6 C360.5,803.7 360.4,812.8 360.3,821.9 C360.1,831 359.7,840.1 359.5,849.2 C359.3,858.3 359.2,867.3 359.2,876.4 C359.2,885.5 359.4,894.6 359.5,903.7 C359.5,912.8 359.3,926.5 359.3,931 M310.9,727.9 C314.3,728 324.5,728.2 331.3,728.3 C338.1,728.3 344.9,728.3 351.7,728.2 C358.5,728.1 368.7,727.9 372.1,727.9 M309.1,767 C312.5,767.1 322.5,767.4 329.2,767.6 C335.9,767.7 342.7,767.9 349.4,767.9 C356.1,767.9 366.1,767.7 369.5,767.7 M307.9,808.3 C311.5,808.2 322.5,808.1 329.7,808 C337,807.9 344.3,807.7 351.6,807.7 C358.8,807.8 369.8,808 373.4,808 M304,842.4 C307.8,842.3 319.1,842.1 326.7,842.1 C334.2,842.1 341.8,842.4 349.3,842.4 C356.9,842.5 368.2,842.4 372,842.4 M306.6,884.2 C310.4,884.3 322,884.5 329.7,884.6 C337.4,884.8 345.1,885 352.8,885.1 C360.5,885.2 368.2,885.2 375.9,885.2 C383.6,885.2 395.1,885.3 399,885.3 M307.9,924.5 C312.3,924.5 325.4,924.6 334.2,924.6 C343,924.6 356.1,924.5 360.5,924.5 M396,884.7 C396.1,889 396.4,901.8 396.4,910.4 C396.4,918.9 396.1,931.7 396,936 M436.3,883.5 C436.3,887.5 436.3,899.3 436.3,907.2 C436.3,915.2 436.3,927 436.3,931 M473,882.2 C472.9,886.3 472.5,898.5 472.3,906.6 C472.2,914.7 472.1,926.9 472,931 M510.1,685 C510.1,689.6 510,703.6 509.9,712.9 C509.9,722.2 509.9,731.4 509.8,740.7 C509.7,750 509.3,759.3 509.2,768.6 C509,777.9 508.7,787.2 508.7,796.4 C508.6,805.7 509,815 509,824.3 C509.1,833.6 509,842.9 508.9,852.2 C508.8,861.5 508.6,870.8 508.4,880 C508.3,889.3 508.1,903.3 508,907.9 M541.7,684.3 C541.7,688.3 541.8,700.4 541.8,708.4 C541.7,716.5 541.5,724.5 541.5,732.6 C541.6,740.6 542,748.7 542,756.7 C542,764.8 541.5,772.8 541.4,780.9 C541.4,788.9 541.7,801 541.7,805 M551.2,805 C551.2,808.1 551.3,817.5 551.4,823.7 C551.5,829.9 551.9,839.3 552,842.4 M477.5,727.2 C481.1,727.2 491.7,727.1 498.8,727.1 C505.9,727 513,726.6 520.1,726.6 C527.2,726.7 534.3,727.2 541.4,727.2 C548.5,727.2 559.2,726.7 562.7,726.6 M475.4,767.7 C479.6,767.7 492.2,767.5 500.7,767.5 C509.1,767.6 517.5,768 525.9,768 C534.4,768 547,767.7 551.2,767.7 M476.7,806.4 C481.3,806.4 495,806.2 504.1,806.2 C513.2,806.1 522.4,806.1 531.5,806.1 C540.6,806.2 554.3,806.4 558.9,806.4 M478,843.6 C481.8,843.7 493.4,844 501.1,844 C508.8,844.1 516.5,843.8 524.2,843.8 C531.9,843.8 543.5,844.1 547.3,844.2 M472.8,879 C476.1,879.1 485.8,879.4 492.3,879.4 C498.8,879.4 505.4,879.1 511.9,879 C518.4,878.9 528.1,879 531.4,879 M127,842.5 C131.4,842.5 144.5,842.4 153.3,842.4 C162,842.3 170.8,842.3 179.5,842.3 C188.3,842.3 197,842.5 205.8,842.5 C214.5,842.6 227.6,842.7 232,842.7 M373.4,843.8 C377.8,843.8 391.2,843.7 400,843.7 C408.9,843.8 417.8,844.1 426.7,844.1 C435.6,844.1 444.5,843.6 453.4,843.6 C462.2,843.5 475.6,843.8 480,843.8"/>
<path stroke-width="1.85" d="M412.4,189.8 C422,189.8 454.6,189.9 470,189.6 C485.4,189.3 496.7,188.3 505,188.2 C513.3,188.1 514,188.9 520,189 C526,189.1 537.7,188.8 541.2,188.7 M309.4,273.4 C313.7,273.3 326.6,273 335.2,273 C343.8,273.1 352.3,273.5 360.9,273.6 C369.5,273.7 378.1,273.6 386.7,273.5 C395.3,273.4 403.9,273 412.5,273 C421.1,273 429.6,273.6 438.2,273.7 C446.8,273.9 455.4,273.9 464,273.8 C472.6,273.7 481.2,273 489.8,273 C498.4,273 506.9,273.7 515.5,273.8 C524.1,273.8 537,273.4 541.3,273.3 M526.6,167.2 C526.6,171.2 526.7,183.4 526.7,191.5 C526.7,199.6 526.7,207.7 526.6,215.8 C526.6,223.9 526.4,232 526.4,240.1 C526.3,248.2 526.4,256.3 526.5,264.4 C526.5,272.5 526.7,284.7 526.7,288.7"/>
<path stroke-width="2.0" d="M171.6,602.3 L190,601.2 L220,600.4 L260,600.9 L288,600.8 C293,600.5 298,596 302.2,589.3 C303,591 296.5,606 293.2,614 C292,618 296.5,618 299.8,612 C301.8,608 302.2,602.5 305.5,601.3 L330,600.3 L360,600.8 L426.2,600.8 M190.8,579.2 C190.8,583.7 190.5,597.3 190.5,606.3 C190.5,615.3 190.9,624.4 191,633.4 C191,642.4 190.9,651.5 190.8,660.5 C190.8,669.5 190.6,678.6 190.6,687.6 C190.5,696.6 190.5,705.7 190.5,714.7 C190.6,723.7 190.7,732.8 190.8,741.8 C190.8,750.8 191,759.9 191,768.9 C191,777.9 190.7,791.5 190.7,796 M407.9,581.1 C407.9,585.5 407.9,598.8 407.9,607.6 C407.9,616.4 408,625.3 407.9,634.1 C407.9,642.9 407.5,651.8 407.5,660.6 C407.6,669.4 407.9,678.3 408,687.1 C408,695.9 407.9,704.8 407.8,713.6 C407.7,722.4 407.4,731.3 407.5,740.1 C407.5,748.9 407.9,757.8 407.9,766.6 C408,775.4 407.7,784.3 407.7,793.1 C407.6,801.9 407.6,815.2 407.6,819.6"/>
<path stroke-width="2.9" d="M81,37.5 C81.8,37.5 83.7,37.3 85.6,37.2 C87.6,37.2 90.6,37.2 93,37.3 C95.3,37.4 97.6,37.7 100,37.8 C102.4,37.9 105,37.7 107.4,37.7 C109.8,37.7 112.2,37.8 114.5,37.8 C116.9,37.8 119.5,37.8 121.4,37.5 C123.3,37.2 124.5,36.7 126.2,36.2 C127.9,35.8 129.9,35.3 131.6,34.9 C133.3,34.5 134.6,33.9 136.6,33.7 C138.5,33.6 141.1,34.1 143.3,33.9 C145.6,33.8 147.8,33.3 150,33 C152.2,32.7 154,32.2 156.4,32 C158.7,31.9 161.6,32.3 163.9,32.3 C166.2,32.2 167.7,31.6 170.2,31.6 C172.7,31.6 176,31.8 178.6,32.2 C181.2,32.7 183.4,33.4 185.6,34.1 C187.8,34.8 190.1,35.1 191.8,36.2 C193.5,37.2 194.4,38.9 195.8,40.5 C197.2,42.1 198.8,43.4 199.9,45.5 C201,47.7 201.8,51.3 202.3,53.4 C202.8,55.5 202.6,56.4 202.8,58.4 C203,60.4 203.3,63.1 203.5,65.4 C203.7,67.7 203.6,69.8 203.8,72 C204,74.3 204.4,76.7 204.8,79 C205.2,81.3 205.6,83.7 206,86 C206.4,88.4 206.8,90.6 207.1,93.2 C207.4,95.7 207.4,98.4 207.7,101.2 C207.9,104 208.5,107.5 208.7,109.9 C208.9,112.3 208.9,113.8 208.8,115.9 C208.7,118 208.2,120.4 208,122.5 C207.8,124.7 207.6,126.6 207.5,128.9 C207.4,131.1 207.5,133.8 207.2,136 C207,138.3 206.3,140.3 206.1,142.4 C205.9,144.4 206.1,146.2 206.1,148.4 C206.1,150.6 206.1,153.5 206.2,155.6 C206.3,157.8 206.5,159.5 206.7,161.5 C206.9,163.5 207.3,165.5 207.4,167.6 C207.5,169.7 207.2,172.3 207.2,174.4 C207.2,176.4 207.4,177.8 207.4,180 C207.4,182.2 207.1,184.9 206.9,187.4 C206.7,189.8 206.5,192.5 206.5,194.8 C206.4,197.1 206.9,199.3 206.8,201.4 C206.8,203.4 206.3,205 206.1,207 C205.9,209 205.8,211.2 205.4,213.5 C205.1,215.9 204.3,218.7 204,221 C203.7,223.3 203.9,225.2 203.8,227.6 C203.7,230 203.4,232.5 203.4,235.2 C203.3,238 203.5,241.4 203.6,244.2 C203.6,247 203.4,249.5 203.5,252 C203.6,254.5 204,256.6 204.3,259 C204.5,261.3 204.6,263.8 205.1,266.2 C205.5,268.7 206.5,271.5 207.1,273.7 C207.6,275.9 208.1,277.6 208.4,279.5 C208.7,281.5 208.7,283.3 208.7,285.5 C208.7,287.7 208.6,290.8 208.2,292.8 C207.9,294.9 207,296.3 206.7,298 C206.3,299.7 206.4,301 206.3,303 C206.2,305 205.8,307.8 205.8,310.2 C205.9,312.5 206.3,314.5 206.5,317 C206.7,319.5 206.7,322.5 207.3,325 C207.9,327.5 209.1,329.8 210.2,332 C211.3,334.2 212.7,336.7 214,338 C215.3,339.3 216.4,339.4 218.2,339.8 C220.1,340.2 222.7,340.2 225,340.3 C227.3,340.4 229.1,340.4 231.9,340.5 C234.6,340.6 238.9,340.8 241.4,341 C243.9,341.2 245.1,341.5 247,341.6 C249,341.7 250.9,341.3 253.2,341.3 C255.4,341.4 258.1,341.9 260.4,342 C262.7,342 264.7,341.6 267,341.6 C269.3,341.6 271.8,341.9 274,341.9 C276.2,341.8 278,341.2 280.1,341.1 C282.2,341 284.6,341.4 286.7,341.3 C288.8,341.2 290,340.8 292.7,340.7 C295.4,340.6 300,340.4 302.8,340.4 C305.7,340.5 307.1,341 310,341 C312.9,341 317.6,340.8 320,340.4 C322.4,340 323.1,339.1 324.7,338.3 C326.3,337.6 327.8,337.7 329.5,335.8 C331.2,333.9 333.9,329.3 335,327 C336.1,324.7 335.6,323.7 335.8,321.8 C336.1,320 336.4,318.2 336.6,316 C336.8,313.8 336.9,310.9 337,308.5 C337,306.1 336.9,304.4 337,301.6 C337.1,298.8 337.5,294 337.7,291.4 C337.9,288.8 337.7,287.8 338,285.7 C338.3,283.7 339,281.3 339.6,279 C340.2,276.7 341,274.2 341.4,272 C341.7,269.8 341.6,268.2 341.5,265.7 C341.4,263.2 341.1,259.9 340.8,257.2 C340.5,254.6 339.8,252.5 339.8,250 C339.8,247.5 340.5,244.8 340.7,242.5 C340.9,240.1 341.2,238.3 341,236 C340.8,233.7 340.2,231.2 339.6,228.7 C339,226.2 337.7,223.3 337.4,221 C337.1,218.7 337.6,216.8 337.8,214.7 C338,212.7 338.1,210.4 338.6,208.5 C339.1,206.6 340.1,204.9 341,203.3 C341.9,201.7 342.7,200.9 344,198.8 C345.3,196.7 347.1,192.2 348.6,190.5 C350.1,188.9 351.5,189.2 353,188.9 C354.5,188.6 355.3,189 357.3,189 C359.3,189 362.5,189 365,188.9 C367.5,188.8 369.5,188.4 372.2,188.4 C374.9,188.3 378.6,188.3 381.4,188.4 C384.2,188.4 386.2,188.6 389.2,188.6 C392.2,188.6 397,188.8 399.5,188.1 C402,187.4 403.3,186.1 404.3,184.6 C405.3,183.1 405.4,181.4 405.7,179 C406,176.6 405.9,172.5 405.9,170 C405.9,167.5 405.7,165.7 405.8,163.8 C405.8,161.9 405.8,160.8 406.2,158.7 C406.6,156.6 407.8,153.5 408.2,151 C408.6,148.5 408.5,146.1 408.9,143.6 C409.2,141 410.1,137.9 410.3,135.6 C410.5,133.3 410,131.6 409.8,129.7 C409.7,127.9 409.5,126.3 409.4,124.3 C409.4,122.3 409.6,119.9 409.5,117.6 C409.4,115.3 409.3,112.8 409.1,110.4 C408.8,108.1 408.2,105.8 408,103.6 C407.8,101.4 407.9,99.3 407.7,97 C407.5,94.7 407.1,92.1 407.1,90 C407,88 407.3,86.5 407.2,84.7 C407.2,82.8 406.4,81.2 407,79 C407.6,76.8 410.1,73.6 410.8,71.4 C411.5,69.2 411.2,68 411.3,65.9 C411.3,63.8 411,60.9 411.1,58.8 C411.2,56.7 411.7,55.3 412.1,53.4 C412.5,51.5 412.8,48.9 413.5,47.2 C414.1,45.5 414.3,44.6 416,43.1 C417.7,41.6 421.3,39 423.7,38 C426.1,37 427.9,36.9 430.1,36.8 C432.4,36.7 434.3,37.4 437.1,37.3 C439.8,37.3 444,36.9 446.8,36.7 C449.6,36.5 451.1,36.4 453.6,36.3 C456.1,36.3 458.8,36.1 461.5,36.3 C464.2,36.5 467,37.3 469.6,37.5 C472.2,37.7 475.2,37.5 477.4,37.5 C479.5,37.5 480.1,37.2 482.7,37.5 C485.3,37.8 489.8,39.4 493,39.3 C496.2,39.2 498.9,37.5 501.7,36.7 C504.5,35.8 508.4,34.5 509.7,34.1 M62.8,683 C63.6,682.9 65.4,682.8 67.4,682.7 C69.5,682.5 72.5,682.3 75.1,682.2 C77.7,682 80.3,681.9 82.9,681.8 C85.6,681.6 88.8,681.2 91,681.2 C93.2,681.1 94.5,681.1 96.2,681.7 C97.9,682.3 99,684.7 101.4,685 C103.8,685.3 107.3,683.2 110.3,683.5 C113.3,683.8 116.9,685.2 119.3,686.8 C121.7,688.4 123.5,691.3 124.5,693.2 C125.5,695.1 125.4,696.3 125.6,698.2 C125.8,700 125.5,702.2 125.7,704.4 C126,706.6 126.6,709 127,711.2 C127.4,713.4 127.9,715.1 128.1,717.3 C128.4,719.5 128.3,721.8 128.5,724.2 C128.8,726.7 129.4,729.4 129.6,731.8 C129.8,734.2 130,736.5 129.8,738.8 C129.7,741.1 129,743.1 128.7,745.7 C128.4,748.2 128.3,751.6 128.2,754.2 C128.1,756.8 128,758.8 128.1,761 C128.1,763.3 128.1,765.3 128.3,767.7 C128.5,770.1 128.8,773.3 129.3,775.3 C129.7,777.3 130.8,778 131.2,779.7 C131.7,781.5 131.8,783.4 131.7,785.7 C131.6,788 131,791.1 130.6,793.7 C130.3,796.4 130,799.1 129.6,801.6 C129.2,804.2 128.7,806.3 128.3,808.8 C127.9,811.3 127.2,814.1 127,816.8 C126.8,819.5 127,822.2 127,825 C127,827.8 127.1,830.6 127.1,833.5 C127.1,836.4 127.1,839.8 127,842.4 C126.9,845 126.5,846.8 126.5,848.9 C126.4,851 126.9,852.9 127,854.8 C127,856.6 126.9,857.9 126.8,860 C126.7,862.1 126.5,865.5 126.5,867.6 C126.6,869.8 127.1,871.2 127.3,873 C127.5,874.8 127.3,877.2 128,878.5 C128.7,879.8 130.1,880.3 131.5,880.8 C132.9,881.3 134.1,881.4 136.1,881.5 C138.1,881.5 140.8,881 143.4,881.1 C146,881.1 148.8,881.8 151.5,881.8 C154.3,881.9 157.6,881.6 160,881.5 C162.4,881.4 163.8,881.2 166,881.2 C168.2,881.2 170.9,881.4 173.3,881.4 C175.7,881.5 177.8,881.4 180.2,881.5 C182.5,881.5 185,881.6 187.3,881.6 C189.6,881.7 192.1,881.7 194.2,881.8 C196.3,881.8 197.6,882 200,882 C202.4,882 206.2,881.8 208.6,881.7 C211,881.6 212.6,881.4 214.4,881.3 C216.1,881.2 217.1,881.7 219,881.2 C220.9,880.7 223.9,880 225.5,878.5 C227.1,877 228.2,874.2 228.8,872 C229.4,869.8 229.1,867.7 229.2,865.2 C229.4,862.8 229.4,859.7 229.5,857.4 C229.7,855.1 229.8,853.9 230.3,851.4 C230.8,848.9 232.2,845 232.6,842.4 C233,839.8 232.9,838.3 232.8,835.6 C232.7,832.8 232.3,828.3 232.1,825.7 C231.9,823.1 231.5,822.2 231.5,820.1 C231.5,818 232,815.4 232,813.2 C232,810.9 231.7,808.7 231.5,806.5 C231.3,804.3 231,802.2 230.9,800.1 C230.8,797.9 230.8,795.7 230.8,793.4 C230.8,791.1 230.7,788.6 230.9,786.5 C231,784.4 231.5,782.7 231.7,780.7 C231.8,778.6 231.6,776.5 231.7,774.3 C231.8,772.2 232,769.9 232.1,767.7 C232.2,765.5 232.2,763.6 232.1,761.4 C232,759.3 231.6,756.9 231.3,754.7 C231,752.4 230.5,750.1 230.5,748 C230.4,745.9 230.8,744.1 230.8,742 C230.8,739.9 230.6,737.9 230.7,735.6 C230.9,733.2 231.4,730.2 231.7,728 C231.9,725.8 232,724.2 232.2,722.3 C232.4,720.3 232.9,718.6 232.9,716.4 C232.9,714.2 232.5,711.4 232.1,709.3 C231.7,707.1 230.7,705.6 230.3,703.5 C229.9,701.4 229.6,698.7 229.7,696.8 C229.7,694.9 229.3,693.2 230.8,692 C232.3,690.8 236.3,690.1 238.5,689.4 C240.7,688.7 241.9,688.1 244.1,687.6 C246.2,687 249.2,686.5 251.4,686.3 C253.6,686.1 255,686.2 257,686.4 C259,686.6 261.6,687.3 263.6,687.5 C265.7,687.7 267.1,687.4 269.3,687.6 C271.5,687.8 274.3,688.6 277,688.6 C279.7,688.6 283.1,687.9 285.7,687.6 C288.3,687.2 291.3,686.5 292.4,686.3 M307.9,686.8 C308.8,686.8 310.9,687.1 313.1,686.9 C315.3,686.7 318.4,685.9 321,685.6 C323.5,685.4 325.9,685.5 328.4,685.5 C330.9,685.5 333.5,685.6 336.1,685.8 C338.7,686 341.5,686.4 343.8,686.8 C346.1,687.2 348.1,687.8 350.1,688.1 C352,688.5 353.2,689.3 355.4,689 C357.6,688.7 360.7,686.3 363.1,686.6 C365.4,686.9 368.1,689.4 369.5,690.7 C370.9,692 370.8,692.6 371.3,694.3 C371.9,696.1 372.7,698.9 372.9,701 C373.1,703.1 372.6,704.5 372.5,706.8 C372.4,709 372.4,712 372.3,714.5 C372.3,717 372,719.5 371.9,721.9 C371.9,724.4 372.2,726.9 372.1,729.2 C372,731.5 371.5,733.5 371.3,735.6 C371.1,737.6 371,739.5 371,741.4 C370.9,743.4 370.6,745.1 370.8,747.2 C371,749.3 371.6,751.6 372.1,753.8 C372.6,756.1 373.2,758.5 373.6,760.8 C374.1,763.1 374.4,765.5 374.7,767.7 C375,769.9 374.9,771.7 375.2,773.8 C375.4,775.9 376.1,778.2 376.3,780.5 C376.5,782.8 376.3,785.6 376.3,787.7 C376.2,789.9 376.3,791 376,793.4 C375.7,795.8 374.6,799.5 374.2,802 C373.8,804.6 373.4,806.3 373.4,808.8 C373.4,811.3 374.3,814.4 374.5,817.2 C374.7,820 374.7,823.2 374.7,825.7 C374.7,828.2 374.6,830 374.3,832 C373.9,834 372.9,835.9 372.5,837.8 C372.1,839.8 372.2,841.2 372.1,843.7 C372,846.2 372,849.9 372.1,852.7 C372.2,855.4 372.4,857.7 372.5,860 C372.6,862.3 372.9,864.7 373,866.5 C373,868.3 372.6,869.3 373,871 C373.4,872.7 374.2,875.4 375.5,877 C376.8,878.6 378.4,879.5 381,880.5 C383.6,881.5 388.4,882.5 391,883 C393.6,883.5 394.4,883.6 396.5,883.6 C398.5,883.7 401,883.6 403.2,883.5 C405.4,883.3 407.6,882.7 409.8,882.7 C412.1,882.6 414.8,883.1 417,883.2 C419.2,883.3 421.1,883 423.3,883.1 C425.5,883.2 427.8,883.7 430.1,883.8 C432.4,883.9 435,883.7 437.1,883.6 C439.2,883.6 440.3,883.5 442.7,883.5 C445.1,883.5 448.8,883.6 451.4,883.4 C453.9,883.3 455.9,883 458,882.6 C460.1,882.2 462.4,881.5 464.3,881.1 C466.2,880.7 467.5,881 469.4,880.2 C471.3,879.4 474,877.7 475.5,876 C477,874.3 477.8,871.8 478.5,870 C479.2,868.2 479.7,867.2 480,865.4 C480.3,863.5 480.3,861.3 480.5,859 C480.7,856.7 480.9,854.4 481,851.8 C481,849.3 481,846.1 480.9,843.7 C480.8,841.3 480.6,839.6 480.4,837.7 C480.1,835.8 479.8,834.1 479.5,832.1 C479.2,830.1 478.9,827.9 478.7,825.7 C478.5,823.5 478.3,821.4 478.5,819.1 C478.7,816.8 479.6,814 479.9,811.8 C480.3,809.6 480.5,807.8 480.6,805.8 C480.7,803.8 480.9,802.1 480.7,800 C480.5,797.9 479.6,795.4 479.3,793.4 C479,791.4 479.1,790 479,788.1 C478.9,786.1 478.8,783.9 478.7,781.6 C478.7,779.3 478.9,776.7 478.9,774.3 C478.9,772 478.6,770.1 478.7,767.7 C478.8,765.3 479.4,762.3 479.6,759.9 C479.9,757.5 480,755.5 480.2,753.4 C480.5,751.3 481.1,749.3 481.2,747.2 C481.3,745.1 481.3,742.8 481.1,740.6 C480.8,738.4 480.3,736.1 479.9,734.2 C479.5,732.3 479.3,731.1 478.7,729.2 C478.1,727.3 476.7,724.7 476,722.5 C475.4,720.4 475,718.4 474.8,716.4 C474.6,714.4 474.8,712.8 474.9,710.7 C475.1,708.5 475.3,705.7 475.5,703.7 C475.7,701.7 475.3,700.8 476.1,698.4 C476.9,696 477.9,691.5 480,689.4 C482.2,687.2 485.9,686.5 489,685.5 C492.1,684.5 496.1,683.6 498.5,683.5 C500.9,683.4 501.6,684.5 503.3,685 C505,685.6 506.7,686.6 508.8,686.8 C510.9,687 513.4,686.4 516,686.2 C518.5,686.1 521.8,686.1 524.2,686 C526.6,685.9 528.4,685.4 530.5,685.4 C532.6,685.4 534.8,686 536.7,685.9 C538.7,685.8 539.8,685.3 542.2,685 C544.6,684.7 548.4,684.2 551.1,683.9 C553.9,683.6 557.6,683.1 558.9,683"/>
<path stroke-width="3.5" d="M210.2,332 C210.8,333 212.5,336.7 214,338 C215.5,339.3 217.2,339.4 219.1,339.8 C220.9,340.2 222.9,340.2 225,340.3 C227.1,340.4 229,340.1 231.8,340.2 C234.5,340.4 238.9,340.8 241.4,341 C243.9,341.2 244.7,341.5 246.7,341.7 C248.7,341.8 251,341.7 253.4,341.7 C255.7,341.6 258.5,341.4 260.8,341.4 C263.1,341.4 264.9,341.5 267,341.6 C269.1,341.7 271.1,342.1 273.4,342 C275.6,341.8 278.2,341.1 280.5,340.9 C282.8,340.7 285.1,340.7 287.1,340.7 C289.1,340.6 290.2,340.8 292.7,340.7 C295.2,340.6 299.2,340.2 302.1,340.3 C305,340.3 307,341 310,341 C313,341 317.4,340.7 320,340.4 C322.6,340.1 323.7,339.8 325.3,339.1 C326.9,338.3 327.9,337.8 329.5,335.8 C331.1,333.8 334.1,328.5 335,327 M127.3,873 C127.4,873.9 127.3,877.2 128,878.5 C128.7,879.8 130,880.3 131.5,880.8 C133,881.3 134.8,881.6 136.7,881.6 C138.7,881.6 140.5,880.9 142.9,881 C145.4,881 148.6,881.8 151.5,881.9 C154.3,882 157.5,881.6 160,881.5 C162.5,881.4 164.6,881.5 166.7,881.5 C168.9,881.5 170.7,881.5 173,881.7 C175.3,881.8 178.2,882.2 180.6,882.3 C183,882.4 185.1,882.3 187.4,882.3 C189.8,882.3 192.6,882.4 194.7,882.3 C196.8,882.3 197.7,882.1 200,882 C202.3,881.9 206.3,882.1 208.7,882 C211,881.9 212.5,881.6 214.2,881.5 C215.9,881.3 217.1,881.7 219,881.2 C220.9,880.7 223.9,880 225.5,878.5 C227.1,877 228.2,873.1 228.8,872 M373,871 C373.4,872 374.2,875.4 375.5,877 C376.8,878.6 378.4,879.5 381,880.5 C383.6,881.5 388.5,882.5 391,883 C393.5,883.5 394.3,883.5 396.2,883.5 C398.2,883.5 400.2,883 402.6,882.9 C404.9,882.8 408,882.9 410.4,882.9 C412.8,883 414.9,883.2 417,883.2 C419.1,883.2 420.9,882.8 423.2,882.8 C425.5,882.8 428.2,883 430.6,883.2 C433,883.4 435.5,883.9 437.5,883.9 C439.6,884 440.3,883.7 442.7,883.5 C445.1,883.3 449.2,883.1 451.8,883 C454.3,882.8 456,882.9 458,882.6 C460,882.3 461.9,881.6 463.8,881.2 C465.7,880.8 467.5,881.1 469.4,880.2 C471.3,879.3 474,877.7 475.5,876 C477,874.3 478,871 478.5,870 M81,37.5 C84.2,37.5 93.3,37.8 100,37.8 C106.7,37.8 116.1,38 121.4,37.5 C126.7,37 126.8,35.6 131.6,34.9 C136.4,34.1 143.6,33.5 150,33 C156.4,32.5 164.3,31.4 170.2,31.6 C176.1,31.8 181.8,33 185.6,34.1 C189.4,35.2 191.8,37.8 193,38.5 M62.8,683 C68.4,682.8 89.8,681.4 96.2,681.7 C102.6,682 99.1,684.7 101.4,685 C103.8,685.3 107.3,683.2 110.3,683.5 C113.3,683.8 117.8,686.2 119.3,686.8 M238.5,689.4 C240.7,688.9 246.3,686.6 251.4,686.3 C256.5,686 265,687.2 269.3,687.6 C273.6,688 273.1,688.8 277,688.6 C280.9,688.4 289.8,686.7 292.4,686.3"/>
<path stroke-width="3.0" d=""/>
</g>
<path d="M522.6,199.2 L531.8,184.4 L530.2,183.2 L519.8,197.2 Z" fill="#000" stroke="#000" stroke-width="0.8" stroke-linejoin="round"/>
<path d="M523.4,282.0 L532.6,268.7 L531.0,267.5 L520.6,280.0 Z" fill="#000" stroke="#000" stroke-width="0.8" stroke-linejoin="round"/>
<path d="M184.1,610.1 L193.8,597.1 L192.2,595.9 L181.5,607.9 Z" fill="#000" stroke="#000" stroke-width="0.8" stroke-linejoin="round"/>
<path d="M402.4,607.8 L413.2,596.1 L411.8,594.7 L400.0,605.4 Z" fill="#000" stroke="#000" stroke-width="0.8" stroke-linejoin="round"/>
<circle cx="267.5" cy="286.3" r="13.6" fill="#fff" stroke="#000" stroke-width="5.3"/>
<circle cx="373.5" cy="178.6" r="6.9" fill="#fff" stroke="#000" stroke-width="4.5"/>
<circle cx="178" cy="828.5" r="13.6" fill="#fff" stroke="#000" stroke-width="5.4"/><path d="M165.3,833.1 A13.5,13.5 0 1 1 185.7,839.6" fill="none" stroke="#fff" stroke-width="0.9" stroke-linecap="round"/>
<circle cx="418.1" cy="834.7" r="7.2" fill="#fff" stroke="#000" stroke-width="5"/>
<path d="M227.4,332.1 l0.9,-0.6 M304.2,313.2 l-0.6,0.3 M271.4,319.4 l-0.6,0.2 M290.5,330.2 l-0.6,0.1 M222.5,305.9 l0.8,0 M313,318.8 l1.2,-0.3 M304,305.1 l-0,-0.1 M265.3,328.1 l0.7,-0.2 M238.9,335.2 l-0.3,0.5 M321,306 l-1,-0 M214.1,322.3 l-1,0.1 M325.6,317.2 l0.1,0.2 M237.4,318.5 l0.7,0.2 M214.5,312.1 l-0.9,0.3 M264.4,320.9 l0.2,-0.5 M239.4,312.4 l0,-0.4 M246.4,305.7 l0.1,-0.8 M289.4,310.9 l-0.1,0.4 M225.7,315.6 l-0.5,0.4 M299,327.8 l0.7,-0.1 M312.3,326.4 l-0,0.2 M248,323.8 l-0.3,0.6 M318.7,332.1 l-1.3,0.5 M232.1,322.6 l0.3,0.1 M256.7,319 l0.9,-0.3 M273,329.9 l1.3,-0.3 M270.7,305.9 l0.9,-0.4 M330.9,324 l0.6,0.2 M259,310.5 l-0.5,0.6 M272.3,336.4 l0.3,-0.3 M305,322.3 l-0.4,0.8 M316,312.4 l-0.3,0.4 M281.5,319.7 l-0.2,-0.1 M327.8,305.2 l0.2,-0.1 M306.6,331.3 l1,-0.1 M217.8,332.8 l-0,0.1 M280.5,311.4 l0.4,-0.2 M276.7,325 l0.3,-0.4 M213,305.5 l0.3,-0.2 M224.4,325 l1.1,-0 M253,307.2 l0.9,-0 M231.5,313.7 l0.8,-0.2 M297.8,319.6 l-0.4,0.5 M273.2,311.7 l0.5,0.1 M238.2,325.8 l0.1,-0.6 M248.4,332.5 l0.9,-0.3 M322.1,311.8 l-0.1,0.8 M252.5,314.3 l0,-0.1 M319.7,323.1 l-0.2,0.4 M312,305.4 l0.4,-0.8 M257.1,336 l0,0.1 M330.9,314.5 l0.5,-0.4 M289.9,318.3 l0.5,-0.2 M259.9,324.6 l-0.8,0.6 M239.5,305.2 l1,-0.5 M265.3,334.6 l-1.1,-0 M264.5,305.7 l0.1,-0.4 M287.6,324.4 l0,-0.1 " stroke="#000" stroke-width="1.55" stroke-linecap="round" fill="none"/>
<path d="M135.5,848.7 l0.5,-0.1 M211,869.6 l-0.7,0.8 M195,855.9 l-0.1,0.7 M188.8,865.4 l-0.9,0.5 M186.4,851.1 l0.1,-0.2 M171.8,858.6 l0.4,0.1 M200.1,877.8 l-1,0.2 M222.1,863.4 l-1.1,0.1 M166.9,874.5 l-0.2,0.7 M181,863.9 l-0.5,0.1 M152.9,846.8 l-0.1,-0.1 M161.5,850.4 l-0.4,0.5 M179.5,878 l1.1,-0.2 M204,871.3 l-1,0 M223.3,851.2 l-0.4,-0.1 M200.2,861.6 l0.4,0 M151.5,856.4 l1,-0.3 M218.1,854.6 l1.2,-0.8 M202.2,847.9 l-0.4,-0 M152,874 l-1.3,0.1 M140.3,862.7 l1.3,-0.1 M171,868.9 l0.9,-0.7 M133.1,857.6 l0.1,-0.2 M146.7,867.5 l-0.2,0.4 M138,876.5 l0.8,-0.6 M132.5,869.3 l-1.2,0.2 M208.9,851 l1.2,0 M167.4,847.4 l0.5,-0.5 M217.5,870.2 l1.1,-0.8 M175.9,853.2 l-0.7,0 M186.7,858.6 l1,-0.4 M143.6,847.8 l1.1,-0.7 M154.3,864.9 l0.3,-0.7 M190.5,871.6 l-0.7,0.6 M207.9,857.7 l-1.3,0.4 M225.4,857.9 l0,-0.5 M139.8,855.8 l0.4,-0.7 M164.7,860.6 l0,-0.3 M216.9,877.6 l-0.3,-0.1 M226.5,871.1 l-1,0.4 M131.7,876.2 l-0.1,0.4 M178.8,846.9 l1.2,-0.2 M160.7,872.8 l0,-0.4 M195,848.9 l-0.2,-0.2 M181.7,872.2 l0.8,-0.2 M205.9,864.6 l-0.9,0.2 " stroke="#000" stroke-width="1.55" stroke-linecap="round" fill="none"/>
<path d="M400,865.4 l0.5,-0.8 M413.4,867.3 l-0.1,0 M439.2,850.1 l0.5,-0.7 M402.2,855.5 l-0.7,-0 M460.5,863.2 l0.4,0.1 M440.1,875.8 l1,-0.4 M428.8,871.7 l1,-0.1 M452.6,866.9 l-0.4,0.4 M406.4,849 l-1.1,0.4 M448.6,876.1 l1.2,-0.7 M415.9,873.6 l0.2,-0.7 M464.8,851.1 l-1.1,0.2 M389.7,854.9 l-0.7,0.8 M473.5,862 l-0.9,0.2 M439.3,857.6 l0.2,-0.8 M427.2,860.3 l-0.7,-0.2 M467.4,866.2 l-0.7,0.2 M448.1,854.8 l-0.2,0 M384.9,873.6 l0.3,-0 M417.5,852.8 l0.1,-0.6 M405.7,872.6 l-0.8,0.7 M441,867.1 l0.8,-0.7 M431.4,848.4 l-1.2,-0.2 M378,867.7 l-0.8,-0.1 M378.2,849.9 l-1.1,0.3 M412.8,858 l-0.7,-0 M454,848.9 l0.3,-0.2 M457.2,855.6 l0.7,0.1 M457.5,874.8 l-0.4,0.2 M393.3,873.3 l-0.1,0.7 M469.1,873.8 l0.9,-0.2 M381,856.7 l0.8,-0.6 M418.7,863.1 l0.1,-0.3 M384.7,864.1 l0.6,-0.7 M398,848.7 l-0.4,0.3 M433.2,878.7 l-1.1,0.2 M392.2,863.9 l0.6,-0.4 M406.8,862.9 l0.4,-0.2 M471.6,850.8 l-0.7,0.4 M425.2,852.9 l1.3,-0.5 " stroke="#000" stroke-width="1.55" stroke-linecap="round" fill="none"/>
<g style="filter:grayscale(1)">
<text x="138.75" y="446.5" font-size="23.5" font-weight="bold" textLength="70.86" lengthAdjust="spacingAndGlyphs" stroke="#000" stroke-width="0.55">Service</text>
<text x="217.60" y="446.5" font-size="23.5" font-weight="bold" textLength="53.66" lengthAdjust="spacingAndGlyphs" stroke="#000" stroke-width="0.55">Lines</text>
<text x="280.00" y="446.5" font-size="23.5" font-weight="bold" textLength="14.09" lengthAdjust="spacingAndGlyphs" stroke="#000" stroke-width="0.55">in</text>
<text x="303.35" y="446.5" font-size="23.5" font-weight="bold" textLength="53.66" lengthAdjust="spacingAndGlyphs" stroke="#000" stroke-width="0.55">Same</text>
<text x="366.00" y="446.5" font-size="23.5" font-weight="bold" textLength="63.42" lengthAdjust="spacingAndGlyphs" stroke="#000" stroke-width="0.55">Trench</text>
<text x="124.65" y="999.5" font-size="23.5" font-weight="bold" textLength="71.86" lengthAdjust="spacingAndGlyphs" stroke="#000" stroke-width="0.55">Service</text>
<text x="204.25" y="999.5" font-size="23.5" font-weight="bold" textLength="54.01" lengthAdjust="spacingAndGlyphs" stroke="#000" stroke-width="0.55">Lines</text>
<text x="264.90" y="999.5" font-size="23.5" font-weight="bold" textLength="16.38" lengthAdjust="spacingAndGlyphs" stroke="#000" stroke-width="0.55">in</text>
<text x="289.55" y="999.5" font-size="23.5" font-weight="bold" textLength="84.76" lengthAdjust="spacingAndGlyphs" stroke="#000" stroke-width="0.55">Separate</text>
<text x="383.70" y="999.5" font-size="23.5" font-weight="bold" textLength="86.30" lengthAdjust="spacingAndGlyphs" stroke="#000" stroke-width="0.55">Trenches</text>
<text x="535.90" y="237.2" font-size="24" font-weight="normal" textLength="26.29" lengthAdjust="spacingAndGlyphs" stroke="#fff" stroke-width="0.3">12”</text>
<text x="567.70" y="237.2" font-size="24" font-weight="normal" textLength="35.31" lengthAdjust="spacingAndGlyphs" stroke="#fff" stroke-width="0.3">min.</text>
<text x="287.50" y="578.9" font-size="24" font-weight="normal" textLength="15.07" lengthAdjust="spacingAndGlyphs" stroke="#fff" stroke-width="0.3">5’</text>
</g>
</svg>
</body></html>
